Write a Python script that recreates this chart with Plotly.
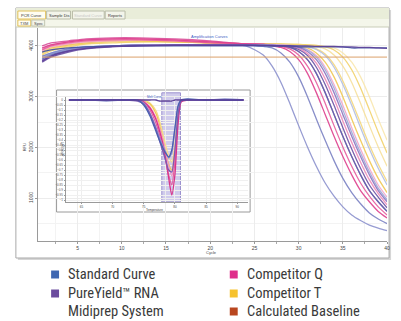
import plotly.graph_objects as go

# ---------------- data ----------------
CYCLES = [1, 2, 4, 6, 9, 12, 16, 20, 24, 26, 27, 28, 29, 30, 31, 32, 33, 34, 35, 36, 37, 38, 39, 40]
X_TICKS = [5, 10, 15, 20, 25, 30, 35, 40]
Y_TICKS = [1000, 2000, 3000, 4000]

STD_1 = [3760, 3840, 3920, 3960, 4000, 4020, 4020, 4020, 4000, 3820, 3600, 3280, 2870, 2430, 2010, 1630, 1300, 1040, 830, 670, 560, 470, 410, 360]
STD_2 = [3800, 3860, 3940, 3980, 4000, 4020, 4020, 4020, 4020, 3990, 3960, 3860, 3680, 3390, 3000, 2560, 2140, 1740, 1390, 1110, 890, 710, 590, 500]
STD_3 = [3740, 3830, 3910, 3960, 3990, 4010, 4020, 4020, 4020, 4000, 4000, 4000, 3970, 3890, 3730, 3460, 3080, 2650, 2220, 1820, 1460, 1150, 930, 740]
STD_4 = [3780, 3860, 3940, 3980, 4000, 4020, 4020, 4020, 4020, 4020, 4010, 4010, 4000, 3980, 3920, 3780, 3530, 3170, 2740, 2300, 1890, 1520, 1200, 970]
STD_5 = [3720, 3820, 3920, 3980, 4000, 4020, 4020, 4020, 4020, 4020, 4020, 4010, 4010, 4000, 3980, 3930, 3810, 3580, 3240, 2830, 2390, 1970, 1590, 1260]
STD_NTC = [3880, 3920, 3960, 3980, 4000, 4000, 4000, 4000, 4000, 4000, 4000, 4000, 4000, 3980, 3980, 3980, 3980, 3980, 3980, 3960, 3960, 3960, 3960, 3960]
PY_1 = [3680, 3780, 3880, 3940, 3980, 4000, 4020, 4020, 4020, 4010, 4000, 4000, 3980, 3930, 3810, 3580, 3240, 2830, 2390, 1970, 1590, 1260, 1020, 810]
PY_2 = [3720, 3800, 3900, 3960, 4000, 4020, 4020, 4020, 4020, 4010, 4010, 4000, 4000, 3970, 3890, 3730, 3460, 3080, 2650, 2220, 1820, 1460, 1150, 930]
PY_NTC = [3700, 3800, 3900, 3950, 3990, 4000, 4010, 4010, 4010, 4010, 4010, 4000, 4000, 4000, 4000, 3990, 3990, 3990, 3980, 3980, 3970, 3970, 3960, 3950]
CQ_1 = [3960, 4020, 4080, 4120, 4140, 4140, 4120, 4080, 4040, 4030, 4000, 3970, 3890, 3730, 3460, 3080, 2650, 2220, 1820, 1460, 1150, 930, 740, 610]
CQ_2 = [3920, 4000, 4060, 4100, 4120, 4120, 4100, 4060, 4040, 4030, 4010, 3990, 3940, 3820, 3600, 3280, 2870, 2430, 2010, 1630, 1300, 1040, 830, 670]
CQ_3 = [4000, 4060, 4100, 4140, 4160, 4160, 4140, 4100, 4040, 4030, 4020, 4000, 3970, 3890, 3730, 3460, 3080, 2650, 2220, 1820, 1460, 1150, 930, 740]
CQ_4 = [3940, 4020, 4080, 4120, 4140, 4140, 4120, 4080, 4040, 4030, 4020, 4010, 3990, 3950, 3850, 3660, 3350, 2960, 2520, 2100, 1710, 1360, 1090, 870]
CQ_5 = [3900, 3980, 4040, 4080, 4100, 4120, 4100, 4080, 4040, 4030, 4030, 4020, 4010, 3980, 3930, 3810, 3580, 3240, 2830, 2390, 1970, 1590, 1260, 1020]
CT_1 = [3880, 3960, 4020, 4060, 4100, 4100, 4080, 4060, 4040, 4040, 4030, 4020, 4010, 3990, 3960, 3860, 3680, 3390, 3000, 2560, 2140, 1740, 1390, 1110]
CT_2 = [3840, 3920, 4000, 4040, 4080, 4080, 4080, 4060, 4040, 4040, 4040, 4030, 4020, 4010, 3990, 3940, 3840, 3630, 3310, 2910, 2480, 2050, 1670, 1330]
CT_3 = [3860, 3940, 4020, 4080, 4100, 4120, 4100, 4080, 4040, 4040, 4040, 4030, 4030, 4020, 4010, 3990, 3940, 3820, 3600, 3280, 2870, 2430, 2010, 1630]
CT_4 = [3820, 3900, 3980, 4040, 4060, 4080, 4080, 4060, 4040, 4040, 4040, 4040, 4030, 4030, 4020, 4010, 3980, 3920, 3780, 3530, 3170, 2740, 2300, 1890]
CT_5 = [3920, 3980, 4040, 4080, 4100, 4100, 4080, 4060, 4040, 4040, 4040, 4040, 4040, 4030, 4020, 4010, 3990, 3960, 3860, 3680, 3390, 3000, 2560, 2140]
BASELINE = 3780

# melt-curve inset
TEMPS = [63, 66, 69, 72, 74, 75, 76, 77, 77.5, 78, 78.5, 79, 79.5, 80, 80.5, 81, 82, 85, 88, 91]
T_TICKS = [65, 70, 75, 80, 85, 90]
M_STD_1 = [0, 0, 0, 0, 0, -0.05, -0.16, -0.32, -0.40, -0.47, -0.53, -0.57, -0.50, -0.28, -0.06, 0, 0.01, 0, 0, 0]
M_STD_2 = [0, 0, -0.01, 0, 0, -0.03, -0.13, -0.28, -0.37, -0.45, -0.52, -0.58, -0.53, -0.30, -0.07, 0, 0, 0, 0.01, 0]
M_PY_1 = [0, 0, 0, 0, -0.01, -0.04, -0.14, -0.30, -0.40, -0.50, -0.60, -0.70, -0.72, -0.50, -0.15, -0.01, 0, 0, 0, 0]
M_CQ_1 = [0, 0, 0, 0, 0, -0.02, -0.08, -0.20, -0.30, -0.42, -0.58, -0.78, -0.95, -0.75, -0.25, -0.02, 0, 0, 0, 0]
M_CQ_2 = [0, 0, 0, 0, 0, -0.02, -0.10, -0.24, -0.34, -0.46, -0.60, -0.75, -0.85, -0.62, -0.18, 0, 0, 0, 0, 0]
M_CQ_3 = [0, 0, 0, 0, 0, -0.01, -0.07, -0.18, -0.27, -0.38, -0.52, -0.66, -0.76, -0.55, -0.15, 0, 0, 0, 0, 0]
M_CT_1 = [0, 0, 0, 0, 0, -0.01, -0.04, -0.14, -0.24, -0.38, -0.52, -0.64, -0.70, -0.52, -0.15, 0, 0, 0, 0, 0]
M_CT_2 = [0, 0, 0, 0, 0, 0, -0.03, -0.11, -0.20, -0.32, -0.45, -0.56, -0.62, -0.45, -0.12, 0, 0, 0, 0, 0]
M_NTC = [0, 0, 0, 0, 0, 0, 0, 0, -0.01, -0.01, -0.01, -0.01, -0.01, 0, 0, 0, 0, 0, 0, 0]
MELT_WINDOW = [77.9, 80.9]

TAB_LABELS = ["PCR Curve", "Sample Dis", "Standard Curve", "Reports"]
SUBTAB_LABELS = ["TXM", "Spec"]
LEGEND_LABELS = ["Standard Curve", "PureYield\u2122 RNA\nMidiprep System", "Competitor Q", "Competitor T", "Calculated Baseline"]
LEGEND_COLORS = ["#3f67b1", "#6b4c9e", "#df2e8a", "#f6c22e", "#b9471f"]

# ---------------- figure ----------------
W, H = 401, 321
def px(x):
    return x / W
def py(y):
    return 1 - y / H

fig = go.Figure()

main = [
    (CT_5, "#f8e7ae"), (CT_3, "#f6e09c"), (CT_2, "#f4d77c"), (CT_4, "#f2d16a"), (CT_1, "#efc853"),
    (CQ_5, "#f3a6cb"), (CQ_4, "#ee89b9"), (CQ_3, "#d8509a"), (CQ_2, "#e65d9d"), (CQ_1, "#de3f8d"),
    (STD_5, "#b2bfe0"), (STD_4, "#9cabd7"), (STD_3, "#5069b3"), (STD_2, "#7b82c3"), (STD_1, "#8c91cd"),
    (PY_2, "#8b72bf"), (PY_1, "#6a4fa3"),
    (STD_NTC, "#3e50a2"), (PY_NTC, "#5b3f98"),
]
for vals, col in main:
    fig.add_trace(go.Scatter(x=CYCLES, y=vals, mode="lines", xaxis="x", yaxis="y",
                             line=dict(color=col, width=1.3, shape="spline", smoothing=0.7),
                             opacity=0.9, hoverinfo="skip", showlegend=False))
fig.add_trace(go.Scatter(x=[CYCLES[0], CYCLES[-1]], y=[BASELINE, BASELINE], mode="lines",
                         xaxis="x", yaxis="y", line=dict(color="#dba06a", width=1),
                         hoverinfo="skip", showlegend=False))

melt = [
    (M_CT_2, "#f5dc8c"), (M_CT_1, "#f0c955"),
    (M_CQ_3, "#f09ac4"), (M_CQ_2, "#e463a2"), (M_CQ_1, "#d9348a"),
    (M_STD_2, "#8c91cd"), (M_PY_1, "#7a5bb3"), (M_STD_1, "#4a60b0"),
    (M_NTC, "#5b3f98"),
]
for vals, col in melt:
    fig.add_trace(go.Scatter(x=TEMPS, y=vals, mode="lines", xaxis="x2", yaxis="y2",
                             line=dict(color=col, width=1.3, shape="spline", smoothing=0.6),
                             hoverinfo="skip", showlegend=False))

shapes = []
# screenshot frame
shapes.append(dict(type="rect", xref="paper", yref="paper", x0=px(18), x1=px(394), y0=py(260), y1=py(10),
                   line=dict(width=0), fillcolor="#d6d6d6", layer="below"))
shapes.append(dict(type="rect", xref="paper", yref="paper", x0=px(16), x1=px(392), y0=py(258), y1=py(8),
                   line=dict(color="#a9a9a9", width=1), fillcolor="#ffffff", layer="below"))
shapes.append(dict(type="rect", xref="paper", yref="paper", x0=px(16), x1=px(392), y0=py(19), y1=py(8),
                   line=dict(width=0), fillcolor="#e9edd9", layer="below"))
shapes.append(dict(type="rect", xref="paper", yref="paper", x0=px(16), x1=px(392), y0=py(27), y1=py(19),
                   line=dict(width=0), fillcolor="#f4f6ea", layer="below"))
shapes.append(dict(type="line", xref="paper", yref="paper", x0=px(16), x1=px(392), y0=py(27), y1=py(27),
                   line=dict(color="#c9cdb8", width=1), layer="below"))
tab_x = [(18, 46), (47, 71), (73, 105), (106, 126)]
for i, (a, b) in enumerate(tab_x):
    shapes.append(dict(type="rect", xref="paper", yref="paper", x0=px(a), x1=px(b), y0=py(19), y1=py(11),
                       line=dict(color="#e2c15a" if i == 0 else "#b9bca8", width=1),
                       fillcolor="#fffdf2" if i == 0 else "#f3f4ea", layer="below"))
sub_x = [(18, 31), (32, 45)]
for i, (a, b) in enumerate(sub_x):
    shapes.append(dict(type="rect", xref="paper", yref="paper", x0=px(a), x1=px(b), y0=py(26), y1=py(20),
                       line=dict(color="#e2c15a" if i == 0 else "#c3c6b2", width=1),
                       fillcolor="#fffdf2" if i == 0 else "#f3f4ea", layer="below"))
# inset panel
shapes.append(dict(type="rect", xref="paper", yref="paper", x0=px(57), x1=px(252), y0=py(212), y1=py(90),
                   line=dict(color="#9a9a9a", width=1), fillcolor="#ffffff", layer="between"))
# melt window
shapes.append(dict(type="rect", xref="x2", yref="y2 domain", x0=MELT_WINDOW[0], x1=MELT_WINDOW[1], y0=0, y1=1.04,
                   line=dict(color="#9d93cf", width=1), fillcolor="rgba(150,140,212,0.45)", layer="below"))

# legend
rows_y = [274.5, 293.5, 311.5]
ann = []
col_x = [51.5, 231.5]
slot = [(0, 0), (0, 1), (1, 0), (1, 1), (1, 2)]
for lab, col, (c, r) in zip(LEGEND_LABELS, LEGEND_COLORS, slot):
    y = rows_y[r]
    shapes.append(dict(type="rect", xref="paper", yref="paper", x0=px(col_x[c]), x1=px(col_x[c] + 8),
                       y0=py(y + 4), y1=py(y - 4), line=dict(width=0), fillcolor=col))
    for k, line in enumerate(lab.split("\n")):
        ann.append(dict(text=line, xref="paper", yref="paper", x=px(col_x[c] + 16), y=py(rows_y[r + k]),
                        xanchor="left", yanchor="middle", showarrow=False, borderpad=0,
                        font=dict(family="Liberation Sans Narrow, Arial Narrow, Roboto Condensed, sans-serif",
                                  size=14.5, color="#3a3a3a")))

tiny = dict(family="Liberation Sans, Arial, sans-serif", size=4, color="#444")
for (a, b), lab, i in zip(tab_x, TAB_LABELS, range(4)):
    ann.append(dict(text=lab, xref="paper", yref="paper", x=px((a + b) / 2), y=py(15), showarrow=False,
                    xanchor="center", yanchor="middle",
                    font=dict(family=tiny["family"], size=4, color="#c8c8c8" if i == 2 else "#333")))
for (a, b), lab in zip(sub_x, SUBTAB_LABELS):
    ann.append(dict(text=lab, xref="paper", yref="paper", x=px((a + b) / 2), y=py(23), showarrow=False,
                    xanchor="center", yanchor="middle", font=tiny))
ann.append(dict(text="Amplification Curves", xref="paper", yref="paper", x=px(211), y=py(32), showarrow=False,
                font=dict(family=tiny["family"], size=4, color="#3b5cc4")))
ann.append(dict(text="Cycle", xref="paper", yref="paper", x=px(213), y=py(255.5), showarrow=False,
                borderpad=0, font=tiny))
ann.append(dict(text="RFU", xref="paper", yref="paper", x=px(21), y=py(147), showarrow=False, textangle=-90, font=tiny))
ann.append(dict(text="Melt Curve", xref="paper", yref="paper", x=px(156), y=py(93.5), showarrow=False,
                font=dict(family=tiny["family"], size=3, color="#3b5cc4")))
ann.append(dict(text="Temperature", xref="paper", yref="paper", x=px(156), y=py(210), showarrow=False,
                font=dict(family=tiny["family"], size=3, color="#444")))
ann.append(dict(text="-d(RFU)/dT", xref="paper", yref="paper", x=px(59.5), y=py(150), showarrow=False,
                textangle=-90, font=dict(family=tiny["family"], size=3, color="#444")))

fig.update_layout(
    width=W, height=H, margin=dict(l=0, r=0, t=0, b=0),
    paper_bgcolor="#ffffff", plot_bgcolor="rgba(0,0,0,0)",
    shapes=shapes, annotations=ann, showlegend=False,
    xaxis=dict(domain=[px(38), px(390)], range=[0.5, 40], tickvals=X_TICKS, ticks="outside", ticklen=2,
               tickcolor="#999", showline=True, linecolor="#9a9a9a", linewidth=1,
               showgrid=True, gridcolor="#ececec", gridwidth=1, zeroline=False,
               minor=dict(dtick=2.5, tick0=0, ticks="outside", ticklen=2, tickcolor="#aaa", showgrid=True, gridcolor="#f3f3f3"),
               tickfont=dict(family="Liberation Sans, Arial, sans-serif", size=5, color="#444"), anchor="y"),
    yaxis=dict(domain=[py(241), py(28)], range=[157, 4353], tickvals=Y_TICKS, tickangle=-90, ticks="outside",
               ticklen=2, tickcolor="#999", showline=True, linecolor="#9a9a9a", linewidth=1,
               showgrid=True, gridcolor="#ececec", zeroline=False,
               minor=dict(dtick=500, tick0=0, showgrid=True, gridcolor="#f3f3f3"),
               tickfont=dict(family="Liberation Sans, Arial, sans-serif", size=5, color="#444"), anchor="x"),
    xaxis2=dict(domain=[px(66), px(250)], range=[62.45, 91.75], tickvals=T_TICKS, ticks="outside", ticklen=1,
                tickcolor="#999", showline=True, linecolor="#9a9a9a", showgrid=True, gridcolor="#eeeeee",
                zeroline=False, tickfont=dict(family="Liberation Sans, Arial, sans-serif", size=3, color="#444"),
                anchor="y2"),
    yaxis2=dict(domain=[py(202), py(97)], range=[-1.02, 0.03], dtick=0.05, ticks="outside", ticklen=1,
                tickcolor="#999", showline=True, linecolor="#9a9a9a", showgrid=True, gridcolor="#f0f0f0",
                zeroline=False, tickfont=dict(family="Liberation Sans, Arial, sans-serif", size=3, color="#555"),
                anchor="x2"),
)

fig.write_html("out.html", config={"displayModeBar": False, "staticPlot": True},
               post_script="document.body.style.margin='0';document.body.style.overflow='hidden';")
